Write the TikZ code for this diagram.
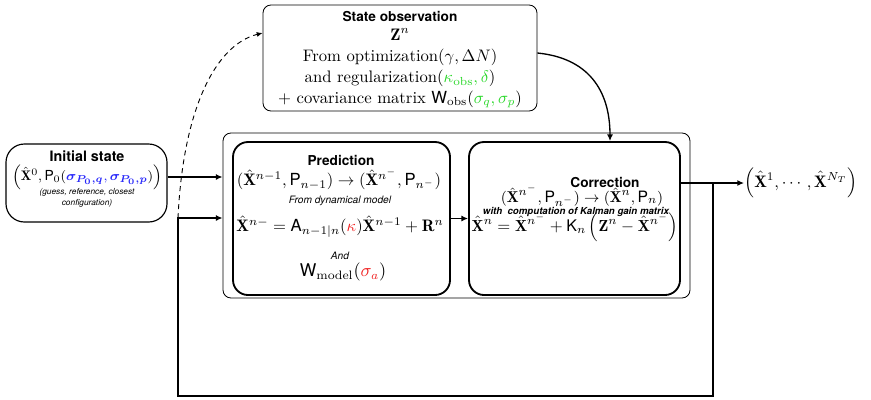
\documentclass[tikz,border=0pt]{standalone}
\usepackage{amsmath,amssymb}
\usepackage{fontspec}
\setsansfont{TeX Gyre Heros}
\usetikzlibrary{arrows.meta}
\definecolor{obsgreen}{RGB}{40,215,40}
\definecolor{pblue}{RGB}{40,40,250}
\definecolor{mred}{RGB}{240,30,30}
\begin{document}
\begin{tikzpicture}[x=0.6pt,y=-0.6pt,
  thinbox/.style={draw, rounded corners=4.8pt, line width=0.5pt, inner sep=0pt},
  fatbox/.style={draw, rounded corners=9pt, line width=1.1pt, inner sep=0pt},
  initbox/.style={draw, rounded corners=11pt, line width=0.7pt, inner sep=0pt},
  txt/.style={inner sep=0pt, anchor=base, font=\fontsize{10}{12}\selectfont},
  ttl/.style={inner sep=0pt, anchor=base, font=\sffamily\bfseries\fontsize{8.2}{10}\selectfont},
  note/.style={inner sep=0pt, anchor=base, align=center, font=\sffamily\itshape\fontsize{6.1}{7}\selectfont},
  conn/.style={line width=0.8pt},
  arr/.style={conn, -{Latex[length=4pt,width=3.6pt]}}]
\useasboundingbox (0,0) rectangle (871,399);
\coordinate (y177) at (0,177);
\coordinate (y33) at (0,33);
\coordinate (y53) at (0,53);
\coordinate (x610) at (610,0);
\coordinate (bot) at (0,396);
\coordinate (lc) at (178,218);
\coordinate (lr) at (713,183);

% State observation
\node[thinbox, minimum width=274*0.6pt, minimum height=106*0.6pt] (obs) at (400,58) {};
\node[ttl] (obsT) at (400,21.7) {State observation};
\node[txt] (obsZ) at (400,40) {$\mathbf{Z}^n$};
\node[txt] (obs1) at (400,61.7) {From optimization$(\gamma,\Delta N)$};
\node[txt] (obs2) at (400,82.7) {and regularization$({\color{obsgreen}\kappa_{\mathrm{obs}},\delta})$};
\node[txt] (obs3) at (400,103.3) {$+$ covariance matrix $\mathsf{W}_{\mathrm{obs}}({\color{obsgreen}\sigma_q,\sigma_p})$};

% Initial state
\node[initbox, minimum width=161*0.6pt, minimum height=78*0.6pt] (init) at (86.5,183) {};
\node[ttl, font=\sffamily\bfseries\fontsize{8.6}{10}\selectfont] (initT) at (87,161) {Initial state};
\node[txt, font=\fontsize{8.3}{10}\selectfont] (initF) at (87,180.5) {$\left(\hat{\mathbf{X}}^0,\mathsf{P}_0({\color{pblue}\boldsymbol{\sigma_{P_0,q}},\boldsymbol{\sigma_{P_0,p}}})\right)$};
\node[note, font=\sffamily\itshape\fontsize{5}{6.6}\selectfont] (initN) at (87,205) {(guess, reference, closest\\configuration)};

% Outer frame
\node[thinbox, minimum width=467*0.6pt, minimum height=165*0.6pt] (outer) at (456.5,215.5) {};

% Prediction
\node[fatbox, minimum width=217*0.6pt, minimum height=153*0.6pt] (pred) at (341.5,218.5) {};
\node[ttl] (predT) at (341,165) {Prediction};
\node[txt] (predF) at (339,185.5) {$(\hat{\mathbf{X}}^{n-1},\mathsf{P}_{n-1})\rightarrow(\hat{\mathbf{X}}^{n^-},\mathsf{P}_{n^-})$};
\node[note] (predN) at (340,203.3) {From dynamical model};
\node[txt] (predE) at (340,231.7) {$\hat{\mathbf{X}}^{n-}=\mathsf{A}_{n-1|n}({\color{mred}\kappa})\hat{\mathbf{X}}^{n-1}+\mathbf{R}^n$};
\node[note] (predA) at (340,259) {And};
\node[txt, font=\fontsize{10.5}{12}\selectfont] (predW) at (343,276.7) {$\mathsf{W}_{\mathrm{model}}({\color{mred}\sigma_a})$};

% Correction
\node[fatbox, minimum width=211*0.6pt, minimum height=153*0.6pt] (corr) at (574.5,218.5) {};
\node[ttl] (corrT) at (605,187) {Correction};
\node[txt, font=\fontsize{9.4}{12}\selectfont] (corrF) at (582,202.3) {$(\hat{\mathbf{X}}^{n^-},\mathsf{P}_{n^-})\rightarrow(\hat{\mathbf{X}}^{n},\mathsf{P}_{n})$};
\node[note, font=\sffamily\bfseries\itshape\fontsize{5.8}{7}\selectfont] (corrN) at (576,214) {with\ \ computation of Kalman gain matrix};
\node[txt, font=\fontsize{9.6}{12}\selectfont] (corrE) at (575,231) {$\hat{\mathbf{X}}^n=\hat{\mathbf{X}}^{n^-}+\mathsf{K}_n\left(\mathbf{Z}^n-\hat{\mathbf{X}}^{n^-}\right)$};

% Output
\node[txt, anchor=base west] (out) at (744,187) {$\left(\hat{\mathbf{X}}^1,\cdots,\hat{\mathbf{X}}^{N_T}\right)$};

% Connectors
\draw[arr] (init.east |- y177) -- (outer.west |- y177);
\draw[arr] (pred.east) -- (corr.west);
\draw[arr] (corr.east |- lr) -- (out.west |- lr);
\draw[arr] (lr) -- (lr |- bot) -| (lc) -- (outer.west |- lc);
\draw[line width=0.55pt, dash pattern=on 3pt off 2.4pt, -{Latex[length=3.5pt,width=3pt]}] (lc) .. controls (183,110) and (215,45) .. (obs.west |- y33);
\draw[arr] (obs.east |- y53) .. controls (588,58) and (610,90) .. (corr.north -| x610);
\end{tikzpicture}
\end{document}
